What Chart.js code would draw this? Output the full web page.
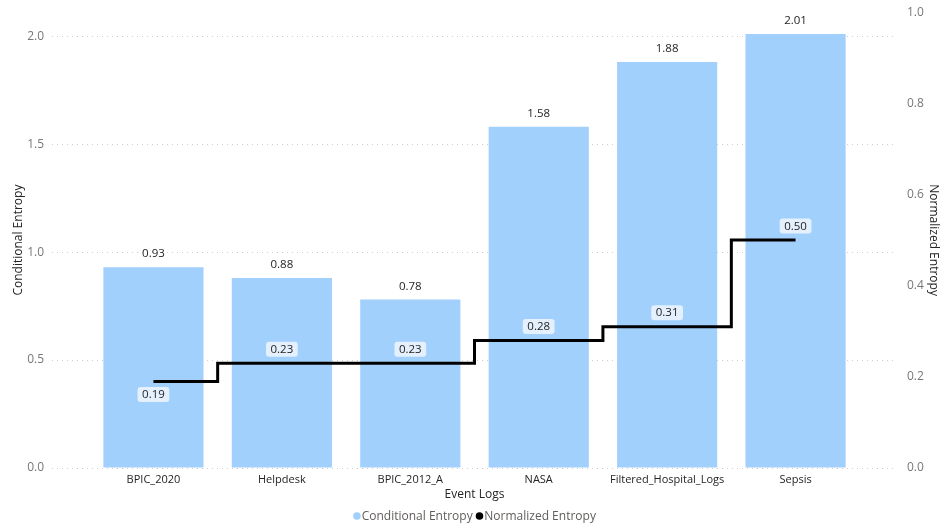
<!DOCTYPE html>
<html>
<head>
<meta charset="utf-8">
<script src="https://cdn.jsdelivr.net/npm/chart.js@4.4.1/dist/chart.umd.min.js"></script>
<style>
  html, body { margin: 0; padding: 0; background: #ffffff; }
  #wrap { width: 941px; height: 525px; }
</style>
</head>
<body>
<div id="wrap"><canvas id="c" width="941" height="525"></canvas></div>
<script>
// Event logs and their entropy measures
const eventLogs = ['BPIC_2020', 'Helpdesk', 'BPIC_2012_A', 'NASA', 'Filtered_Hospital_Logs', 'Sepsis'];
const conditionalEntropy = [0.93, 0.88, 0.78, 1.58, 1.88, 2.01];
const normalizedEntropy = [0.19, 0.23, 0.23, 0.28, 0.31, 0.50];
const leftTicks = [0, 0.5, 1.0, 1.5, 2.0];
const rightTicks = [0, 0.2, 0.4, 0.6, 0.8, 1.0];

const FONT = "'Segoe UI', 'Open Sans', sans-serif";
const DARK = '#252423';
const GREY = '#777777';
const BAR_COLOR = '#a2d0fd';

Chart.defaults.font.family = FONT;
Chart.defaults.font.size = 12;

// Value labels: plain text above bars, boxed labels on the line
const valueLabels = {
  id: 'valueLabels',
  afterDatasetsDraw(chart, args, opts) {
    const ctx = chart.ctx;
    ctx.save();
    ctx.font = '11.5px ' + FONT;
    ctx.textAlign = 'center';
    ctx.textBaseline = 'middle';
    chart.data.datasets.forEach((ds, di) => {
      const meta = chart.getDatasetMeta(di);
      meta.data.forEach((el, i) => {
        const v = ds.data[i].y;
        const txt = v.toFixed(2);
        if (ds.type === 'bar') {
          ctx.fillStyle = DARK;
          ctx.fillText(txt, el.x, el.y - 13);
        } else {
          const below = (opts.lineBelow || []).includes(i);
          const cy = below ? el.y + 13 : el.y - 14;
          const w = ctx.measureText(txt).width + 9;
          const h = 15;
          ctx.fillStyle = '#e4f0fd';
          ctx.beginPath();
          ctx.roundRect(el.x - w / 2, cy - h / 2, w, h, 3);
          ctx.fill();
          ctx.fillStyle = DARK;
          ctx.fillText(txt, el.x, cy + 0.5);
        }
      });
    });
    ctx.restore();
  }
};

// Compact legend: small dot immediately followed by the series name
const dotLegend = {
  id: 'dotLegend',
  afterDraw(chart, args, opts) {
    const ctx = chart.ctx;
    const area = chart.chartArea;
    ctx.save();
    ctx.font = '12px ' + FONT;
    ctx.textBaseline = 'middle';
    ctx.textAlign = 'left';
    const r = 3.8, gap = 1, between = 3;
    const items = chart.data.datasets.map(ds => ({
      text: ds.label,
      color: ds.backgroundColor,
      w: 2 * r + gap + ctx.measureText(ds.label).width
    }));
    const total = items.reduce((s, it) => s + it.w, 0) + between * (items.length - 1);
    let x = (area.left + area.right) / 2 - total / 2;
    const y = opts.y;
    items.forEach(it => {
      ctx.fillStyle = it.color;
      ctx.beginPath();
      ctx.arc(x + r, y, r, 0, Math.PI * 2);
      ctx.fill();
      ctx.fillStyle = '#605e5c';
      ctx.fillText(it.text, x + 2 * r + gap, y + 0.5);
      x += it.w + between;
    });
    ctx.restore();
  }
};

const barPoints = conditionalEntropy.map((v, i) => ({ x: i, y: v }));
const linePoints = normalizedEntropy.map((v, i) => ({ x: i, y: v }));

new Chart(document.getElementById('c'), {
  data: {
    datasets: [
      {
        type: 'bar',
        label: 'Conditional Entropy',
        data: barPoints,
        backgroundColor: BAR_COLOR,
        borderWidth: 0,
        barPercentage: 0.78,
        categoryPercentage: 1,
        yAxisID: 'y',
        order: 1
      },
      {
        type: 'line',
        label: 'Normalized Entropy',
        data: linePoints,
        borderColor: '#000000',
        backgroundColor: '#000000',
        borderWidth: 3,
        stepped: 'middle',
        pointRadius: 0,
        yAxisID: 'y1',
        order: 0
      }
    ]
  },
  options: {
    responsive: false,
    animation: false,
    layout: { padding: { top: 0, left: 0, right: 0, bottom: 23 } },
    plugins: {
      tooltip: { enabled: false },
      legend: { display: false },
      valueLabels: { lineBelow: [0] },
      dotLegend: { y: 516 }
    },
    scales: {
      x: {
        type: 'linear',
        offset: false,
        min: -0.79,
        max: 5.79,
        grid: { display: false, drawTicks: false },
        border: { display: false },
        ticks: {
          stepSize: 1,
          includeBounds: false,
          autoSkip: false,
          maxRotation: 0,
          color: DARK,
          font: { size: 11 },
          padding: 5,
          callback: (v) => Number.isInteger(v) ? eventLogs[v] : ''
        },
        title: { display: true, text: 'Event Logs', color: DARK, font: { size: 12 }, padding: { top: 0, bottom: 0 } },
        afterFit: (s) => { s.height = 34; }
      },
      y: {
        position: 'left',
        min: 0,
        max: 2.111,
        afterBuildTicks: (s) => { s.ticks = leftTicks.map(v => ({ value: v })); },
        grid: { color: '#cfcfcf', lineWidth: 1, drawTicks: true, tickLength: 3, tickColor: 'rgba(0,0,0,0)' },
        border: { display: false, dash: [1, 4] },
        ticks: { color: GREY, padding: 5, font: { size: 12 }, callback: (v) => v.toFixed(1) },
        title: { display: true, text: 'Conditional Entropy', color: DARK, font: { size: 12 }, padding: { top: 11, bottom: 0 } },
        afterFit: (s) => { s.width = 52; }
      },
      y1: {
        position: 'right',
        min: 0,
        max: 1,
        afterBuildTicks: (s) => { s.ticks = rightTicks.map(v => ({ value: v })); },
        grid: { drawOnChartArea: false, drawTicks: true, tickLength: 5, tickColor: 'rgba(0,0,0,0)' },
        border: { display: false },
        ticks: { color: GREY, padding: 5, font: { size: 12 }, callback: (v) => v.toFixed(1) },
        title: { display: true, text: 'Normalized Entropy', color: DARK, font: { size: 12 }, padding: { top: 0, bottom: 0 } },
        afterFit: (s) => { s.width = 44; }
      }
    }
  },
  plugins: [valueLabels, dotLegend]
});
</script>
</body>
</html>
